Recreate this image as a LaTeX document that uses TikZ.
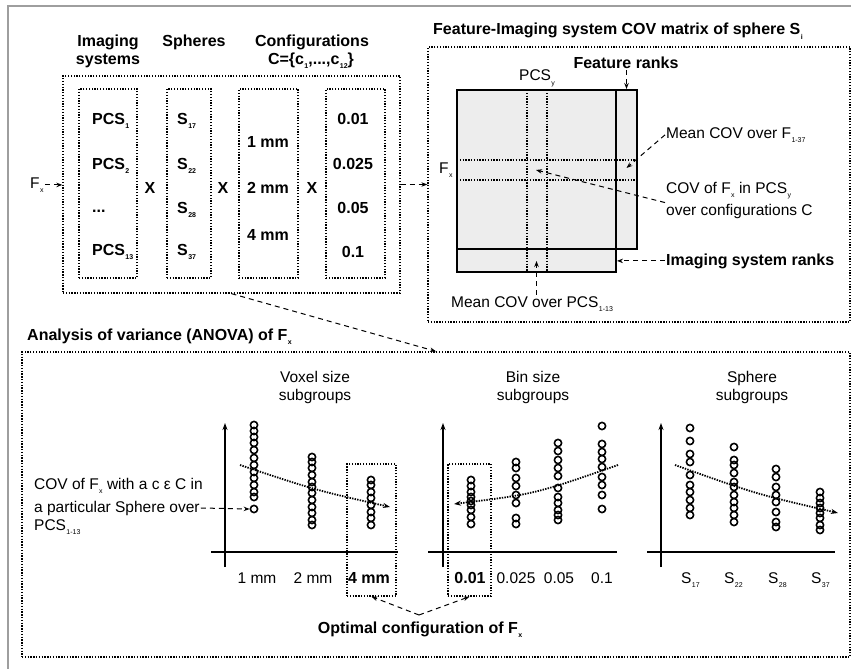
\documentclass[tikz,border=0pt]{standalone}
\usepackage{fontspec}
\setmainfont{Liberation Sans}
\usetikzlibrary{arrows.meta}
% small, strongly lowered subscript
\newcommand\lowsub[1]{\kern0.4pt\raisebox{-4.5pt}{\fontsize{7}{7}\selectfont #1}}

\begin{document}
\begin{tikzpicture}[x=1pt,y=-1pt,
  every node/.style={font=\fontsize{15.5}{18}\selectfont, inner sep=1pt},
  lbl/.style={anchor=base},
  lbll/.style={anchor=base west},
  bf/.style={font=\fontsize{16}{19}\selectfont\bfseries},
  dotbox/.style={draw, line width=1.3pt, dash pattern=on 1.3pt off 1.5pt, inner sep=0pt},
  dotline/.style={line width=1.3pt, dash pattern=on 1.3pt off 1.5pt},
  tip/.style={-{Stealth[length=6pt,width=4.5pt]}},
  dasharrow/.style={tip, line width=1pt, dash pattern=on 5pt off 4pt},
  trend/.style={line width=1.8pt, dash pattern=on 1.4pt off 1.2pt, -{Stealth[length=7pt,width=5pt]}},
  axis/.style={line width=2pt},
  yaxis/.style={axis, -{Stealth[length=7pt,width=5pt]}},
  obs/.style={line width=1.6pt},
  panel/.style={draw, line width=2pt, fill=black!7, inner sep=0pt},
]
\useasboundingbox (0,0) rectangle (851,669);
\fill[white] (0,0) rectangle (851,669);

% frame edge
\draw[black!38, line width=1.5pt] (8,669) -- (8,6) -- (851,6);

% ---------- combinations of imaging systems, spheres and configurations ----------
\node[bf,lbl] (hImgA) at (108,47) {Imaging};
\node[bf,lbl] (hImgB) at (108,64) {systems};
\node[bf,lbl] (hSph) at (194,47) {Spheres};
\node[bf,lbl] (hCfgA) at (312,47) {Configurations};
\node[bf,lbl] (hCfgB) at (311,64) {C=\{c\lowsub{1},...,c\lowsub{12}\}};

\node[dotbox, minimum width=337pt, minimum height=217pt] (combo) at (231.5,184.5) {};
\node[dotbox, minimum width=58pt, minimum height=189pt] (colA) at (108,183.5) {};
\node[dotbox, minimum width=44pt, minimum height=189pt] (colB) at (189,183.5) {};
\node[dotbox, minimum width=59pt, minimum height=189pt] (colC) at (268.5,183.5) {};
\node[dotbox, minimum width=59pt, minimum height=189pt] (colD) at (355.5,183.5) {};

\node[bf,lbll] (pcsA) at (91,124) {PCS\lowsub{1}};
\node[bf,lbll] (pcsB) at (91,169) {PCS\lowsub{2}};
\node[bf,lbll] (pcsC) at (91,212) {...};
\node[bf,lbll] (pcsD) at (91,255) {PCS\lowsub{13}};

\node[bf,lbll] (sphA) at (176,124) {S\lowsub{17}};
\node[bf,lbll] (sphB) at (176,169) {S\lowsub{22}};
\node[bf,lbll] (sphC) at (176,213) {S\lowsub{28}};
\node[bf,lbll] (sphD) at (176,255) {S\lowsub{37}};

\node[bf,lbl] (voxA) at (268,147) {1 mm};
\node[bf,lbl] (voxB) at (268,193) {2 mm};
\node[bf,lbl] (voxC) at (268,240) {4 mm};

\node[bf,lbl] (binA) at (353,124) {0.01};
\node[bf,lbl] (binB) at (353,169) {0.025};
\node[bf,lbl] (binC) at (353,213) {0.05};
\node[bf,lbl] (binD) at (353,257) {0.1};

\node[bf,lbl] (timesA) at (150,193) {X};
\node[bf,lbl] (timesB) at (223,193) {X};
\node[bf,lbl] (timesC) at (312,193) {X};

\node[lbll] (fx) at (29,188) {F\lowsub{x}};
\draw[dasharrow] (fx.east) -- (fx.east -| combo.west);

% ---------- COV matrix ----------
\node[bf,lbll] (covtitle) at (432,35) {Feature-Imaging system COV matrix of sphere S\lowsub{i}};
\node[dotbox, minimum width=422pt, minimum height=275pt] (covbox) at (639,184.5) {};

\node[panel, minimum width=21pt, minimum height=159pt] (featcol) at (626.5,169.5) {};
\node[panel, minimum width=159pt, minimum height=23pt] (imgrow) at (536.5,260.5) {};
\node[panel, minimum width=159pt, minimum height=159pt] (mat) at (536.5,169.5) {};
\draw[dotline] (527,90) -- (527,272);
\draw[dotline] (547,90) -- (547,272);
\draw[dotline] (457,160) -- (637,160);
\draw[dotline] (457,180) -- (637,180);

\node[bf,lbl] (featlbl) at (626,69) {Feature ranks};
\node[lbll] (pcsy) at (518,81) {PCS\lowsub{y}};
\node[lbll] (fxm) at (438,173) {F\lowsub{x}};
\node[lbll] (meanF) at (665,138) {Mean COV over F\lowsub{1-37}};
\node[lbll] (covA) at (665,193) {COV of F\lowsub{x} in PCS\lowsub{y}};
\node[lbll] (covB) at (665,215) {over configurations C};
\node[bf,lbll] (imglbl) at (665,265) {Imaging system ranks};
\node[lbll] (meanP) at (450,307) {Mean COV over PCS\lowsub{1-13}};

\coordinate (fxrank) at (626.5,168);
\coordinate (cell) at (536,170);
\coordinate (pcscell) at (536.5,261);
\draw[dasharrow] (featlbl.south -| featcol.north) -- (featcol.north);
\draw[dasharrow] (meanF.west) -- (fxrank);
\draw[dasharrow] (covB.north west) -- (cell);
\draw[dasharrow] (imglbl.west) -- (imglbl.west -| imgrow.east);
\draw[dasharrow] (meanP.north -| pcscell) -- (pcscell);

\draw[dasharrow] (combo.east) -- (covbox.west);

% ---------- ANOVA ----------
\node[bf,lbll] (anovatitle) at (26,340) {Analysis of variance (ANOVA) of F\lowsub{x}};
\node[dotbox, minimum width=828pt, minimum height=305pt] (anova) at (436,504.5) {};
\draw[dasharrow] (combo.south) -- (anova.north);

\node[lbl] (gVoxA) at (315,382) {Voxel size};
\node[lbl] (gVoxB) at (315,400) {subgroups};
\node[lbl] (gBinA) at (533,382) {Bin size};
\node[lbl] (gBinB) at (533,400) {subgroups};
\node[lbl] (gSphA) at (752,382) {Sphere};
\node[lbl] (gSphB) at (752,400) {subgroups};

% axes
\draw[yaxis] (225,567) -- (225,423);
\draw[axis] (211,552) -- (398,552);
\draw[yaxis] (443,567) -- (443,423);
\draw[axis] (428,552) -- (617,552);
\draw[yaxis] (661,567) -- (661,423);
\draw[axis] (647,552) -- (835,552);

% observations
\foreach \yy in {425,431,437,443,450,458,465,472,478,485,492,497}
  \draw[obs] (254,\yy) circle[radius=3.6pt];
\node[circle, draw, obs, minimum size=7.2pt, inner sep=0pt] (outlier) at (254,509) {};
\foreach \yy in {457,462,468,475,482,487,493,500,507,513,520,525}
  \draw[obs] (312,\yy) circle[radius=3.6pt];
\foreach \yy in {480,485,492,498,505,512,518,525}
  \draw[obs] (371,\yy) circle[radius=3.6pt];

\foreach \yy in {480,486,492,497,501,505,510,517,524}
  \draw[obs] (471,\yy) circle[radius=3.6pt];
\foreach \yy in {462,468,478,486,495,503,518,524}
  \draw[obs] (516,\yy) circle[radius=3.6pt];
\foreach \yy in {443,451,460,468,476,488,497,503,510,515,520}
  \draw[obs] (558,\yy) circle[radius=3.6pt];
\foreach \yy in {426,444,452,459,467,477,485,495,509}
  \draw[obs] (602,\yy) circle[radius=3.6pt];

\foreach \yy in {428,441,454,462,475,485,492,500,508,515}
  \draw[obs] (690,\yy) circle[radius=3.6pt];
\foreach \yy in {447,460,465,473,482,487,495,502,508,515,522}
  \draw[obs] (734,\yy) circle[radius=3.6pt];
\foreach \yy in {469,477,487,495,502,512,522,527}
  \draw[obs] (776,\yy) circle[radius=3.6pt];
\foreach \yy in {492,498,503,508,513,518,525,530}
  \draw[obs] (820,\yy) circle[radius=3.6pt];

% trends
\draw[trend] (240,465) .. controls (315,490) .. (390,507);
\draw[trend] (618,465) .. controls (535,494) .. (454,504);
\draw[trend] (675,465) .. controls (756,494) .. (838,513);

% axis labels
\node[lbl] (xA) at (257,583) {1 mm};
\node[lbl] (xB) at (313,583) {2 mm};
\node[bf,lbl] (xC) at (369,583) {4 mm};
\node[bf,lbl] (xD) at (470,583) {0.01};
\node[lbl] (xE) at (516,583) {0.025};
\node[lbl] (xF) at (559,583) {0.05};
\node[lbl] (xG) at (602,583) {0.1};
\node[lbll] (xH) at (680,583) {S\lowsub{17}};
\node[lbll] (xI) at (723,583) {S\lowsub{22}};
\node[lbll] (xJ) at (767,583) {S\lowsub{28}};
\node[lbll] (xK) at (810,583) {S\lowsub{37}};

% optimal configuration boxes
\node[dotbox, minimum width=49pt, minimum height=132pt] (optA) at (371.5,530) {};
\node[dotbox, minimum width=43pt, minimum height=132pt] (optB) at (469.5,530) {};
\node[bf,lbl] (optlbl) at (420,633) {Optimal configuration of F\lowsub{x}};
\coordinate (optjoin) at (419,615);
\draw[dasharrow] (optjoin) -- (optA.south);
\draw[dasharrow] (optjoin) -- (optB.south);

% observation explanation
\node[lbll] (cfA) at (33,489) {COV of F\lowsub{x} with a c ε C in};
\node[lbll] (cfB) at (33,512) {a particular Sphere over};
\node[lbll] (cfC) at (33,530) {PCS\lowsub{1-13}};
\draw[dasharrow] (cfB.east) -- (outlier.west);

\end{tikzpicture}
\end{document}
